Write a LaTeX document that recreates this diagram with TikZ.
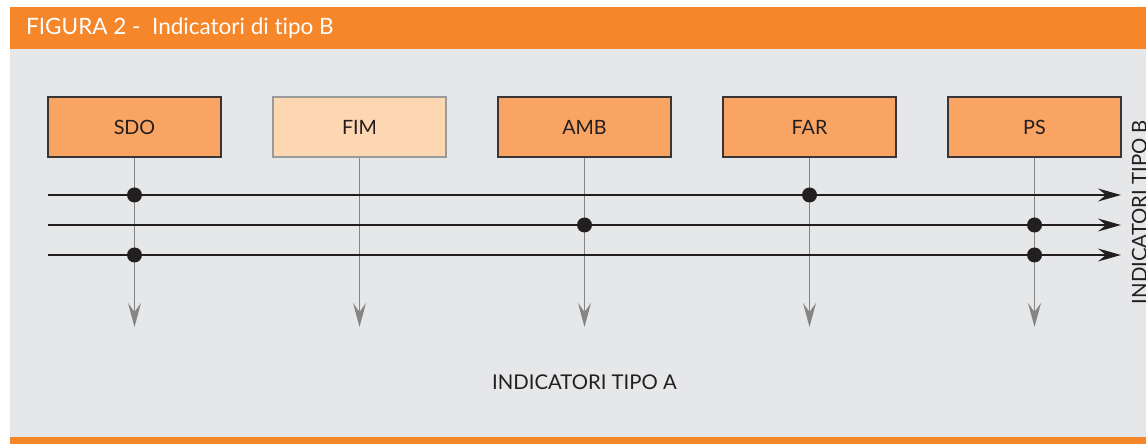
\documentclass[tikz,border=0pt]{standalone}
\usepackage{fontspec}
\setmainfont[Ligatures=NoCommon]{Lato}
\usetikzlibrary{arrows.meta}
\definecolor{bandorange}{HTML}{F5862A}
\definecolor{panelgrey}{HTML}{E6E7E8}
\definecolor{boxorange}{HTML}{FAA463}
\definecolor{boxpale}{HTML}{FDD6B2}
\definecolor{ink}{HTML}{231F20}
\definecolor{edgedark}{HTML}{3A3536}
\definecolor{edgegrey}{HTML}{9A9A9A}
\definecolor{droppgrey}{HTML}{858585}
\tikzset{
  ibox/.style={draw=edgedark, fill=boxorange, line width=1.3bp,
    minimum width=173bp, minimum height=60bp, inner sep=0pt,
    font=\fontsize{19.8}{22}\selectfont, text=ink},
  paleibox/.style={ibox, draw=edgegrey, fill=boxpale},
  drop/.style={draw=droppgrey, line width=1.4bp,
    -{Stealth[length=24bp, width=13bp, inset=9bp]}},
  bus/.style={draw=ink, line width=1.4bp,
    -{Stealth[length=23bp, width=13bp, inset=8bp]}},
  tap/.style={circle, fill=ink, inner sep=0pt, minimum size=15bp},
  caption/.style={font=\fontsize{20.4}{23}\selectfont, text=ink}
}
\begin{document}
\begin{tikzpicture}[x=1bp, y=-1bp]
  \useasboundingbox (0,0) rectangle (1146,444);
  % panel and bands
  \fill[panelgrey] (10,49) rectangle (1146,437);
  \fill[bandorange] (10,7) rectangle (1146,49);
  \fill[bandorange] (10,437) rectangle (1146,444);
  \node[anchor=base west, text=white, font=\fontsize{22.6}{25}\selectfont, inner sep=0pt]
    (title) at (26,35) {FIGURA 2 -\ \ Indicatori di tipo B};

  % type-B indicator boxes
  \node[ibox]     (sdo) at (134.5,127) {SDO};
  \node[paleibox] (fim) at (359.5,127) {FIM};
  \node[ibox]     (amb) at (584.5,127) {AMB};
  \node[ibox]     (far) at (809.5,127) {FAR};
  \node[ibox]     (ps)  at (1034.5,127) {PS};

  % lower ends of the drop lines
  \foreach \n in {sdo,fim,amb,far,ps}
    \coordinate (\n-end) at (\n.south |- 0,327);
  \foreach \n in {sdo,fim,amb,far,ps}
    \draw[drop] (\n.south) -- (\n-end);

  % horizontal buses
  \coordinate (b1s) at (48,195);  \coordinate (b1e) at (1121,195);
  \coordinate (b2s) at (48,225);  \coordinate (b2e) at (1121,225);
  \coordinate (b3s) at (48,255);  \coordinate (b3e) at (1121,255);
  \draw[bus] (b1s) -- (b1e);
  \draw[bus] (b2s) -- (b2e);
  \draw[bus] (b3s) -- (b3e);

  % junctions
  \node[tap] (t-sdo-1) at (sdo |- b1s) {};
  \node[tap] (t-sdo-3) at (sdo |- b3s) {};
  \node[tap] (t-amb-2) at (amb |- b2s) {};
  \node[tap] (t-far-1) at (far |- b1s) {};
  \node[tap] (t-ps-2)  at (ps |- b2s) {};
  \node[tap] (t-ps-3)  at (ps |- b3s) {};

  % axis captions
  \node[caption, anchor=base, inner sep=0pt] (capA) at (584.5,390) {INDICATORI TIPO A};
  \node[caption, anchor=base, inner sep=0pt, rotate=90] (capB) at (1146.5,212) {INDICATORI TIPO B};
\end{tikzpicture}
\end{document}
